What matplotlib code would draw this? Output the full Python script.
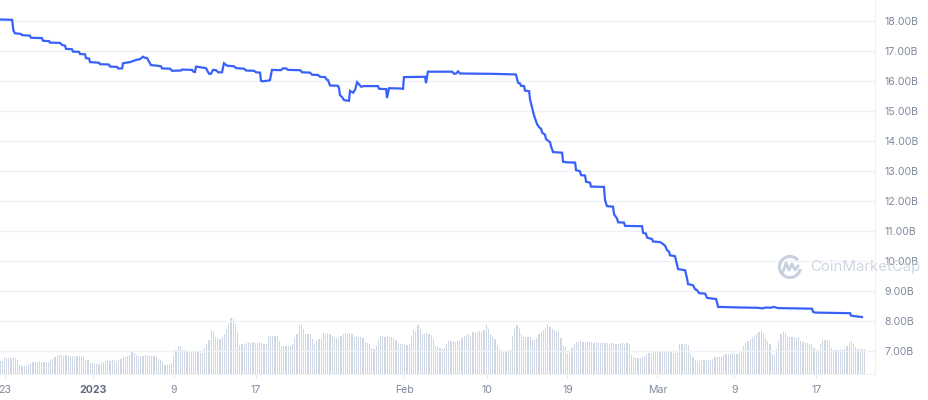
import numpy as np
import matplotlib
matplotlib.use("Agg")
import matplotlib.pyplot as plt
from matplotlib.patches import Arc

plt.rcParams['font.family'] = ['Inter', 'DejaVu Sans']

# market cap line, breakpoints (x in data-point index, value in B)
line_x = [0, 5.5, 6.1, 6.8, 9.5, 10.0, 13.6, 14.1, 19.1, 19.5, 22.3, 22.7, 27.3, 28.2,
          29.5, 30.0, 32.7, 33.2, 35.9, 36.4, 38.6, 39.1, 40.5, 40.9, 45.0, 45.5, 49.5,
          50.0, 53.2, 53.6, 55.5, 55.9, 57.3, 59.1, 61.8, 63.6, 65.0, 65.9, 66.8, 68.6,
          71.4, 73.2, 73.6, 77.3, 78.2, 82.3, 82.7, 87.3, 87.7, 88.6, 89.1, 91.8, 93.6,
          95.0, 95.9, 96.8, 98.2, 99.1, 100.9, 101.8, 103.2, 106.4, 107.3, 110.9, 111.8,
          115.5, 116.4, 118.2, 118.6, 119.1, 121.8, 122.7, 123.6, 127.7, 128.6, 130.0,
          130.9, 136.4, 137.3, 140.9, 141.8, 144.5, 145.5, 147.7, 148.6, 149.1, 150.0,
          153.6, 154.1, 154.5, 155.5, 156.4, 158.6, 159.1, 160.5, 161.4, 162.3, 163.2,
          164.1, 165.5, 171.8, 172.3, 175.5, 175.9, 176.8, 181.8, 183.2, 183.6, 193.2,
          193.6, 194.5, 205.5, 206.4, 207.3, 208.2, 209.1, 222.7, 234.1, 234.5, 235.5,
          236.4, 236.8, 238.2, 238.6, 240.5, 240.9, 241.8, 242.7, 244.1, 245.0, 245.9,
          246.4, 247.7, 248.2, 250.0, 250.5, 251.4, 255.5, 255.9, 257.3, 261.4, 261.8,
          263.6, 264.1, 265.9, 266.4, 268.2, 268.6, 274.5, 275.0, 275.5, 275.9, 278.6,
          279.1, 280.5, 280.9, 283.6, 284.1, 291.8, 292.3, 293.6, 294.1, 296.4, 296.8,
          300.0, 300.9, 302.3, 303.2, 304.1, 304.5, 306.8, 307.3, 308.2, 311.4, 312.3,
          312.7, 315.0, 315.9, 316.8, 317.7, 320.5, 321.4, 325.5, 326.4, 336.4, 344.5,
          346.4, 348.2, 350.0, 351.8, 353.6, 369.1, 369.5, 370.5, 386.4, 386.8, 388.6,
          391.8]
line_val = [18.04, 18.03, 17.67, 17.58, 17.56, 17.52, 17.50, 17.43, 17.42, 17.33, 17.32,
            17.27, 17.26, 17.19, 17.17, 17.06, 17.05, 16.97, 16.96, 16.89, 16.88, 16.75,
            16.74, 16.62, 16.60, 16.55, 16.54, 16.47, 16.46, 16.41, 16.41, 16.58, 16.60,
            16.62, 16.69, 16.72, 16.80, 16.76, 16.76, 16.52, 16.50, 16.48, 16.41, 16.40,
            16.33, 16.34, 16.37, 16.36, 16.31, 16.29, 16.47, 16.44, 16.42, 16.23, 16.23,
            16.36, 16.35, 16.28, 16.28, 16.58, 16.50, 16.48, 16.42, 16.40, 16.34, 16.33,
            16.28, 16.27, 16.00, 15.98, 16.00, 16.02, 16.36, 16.35, 16.41, 16.41, 16.36,
            16.35, 16.28, 16.27, 16.20, 16.19, 16.13, 16.12, 16.03, 16.02, 15.84, 15.83,
            15.75, 15.52, 15.45, 15.35, 15.33, 15.66, 15.60, 15.70, 15.95, 15.88, 15.80,
            15.82, 15.82, 15.73, 15.72, 15.42, 15.75, 15.74, 15.73, 16.12, 16.13, 15.92,
            16.30, 16.30, 16.23, 16.24, 16.31, 16.24, 16.23, 16.21, 16.20, 15.93, 15.90,
            15.83, 15.82, 15.67, 15.65, 15.38, 15.12, 14.85, 14.55, 14.45, 14.40, 14.27,
            14.20, 14.05, 13.95, 13.80, 13.62, 13.60, 13.30, 13.28, 13.27, 13.02, 12.98,
            12.85, 12.84, 12.63, 12.60, 12.47, 12.46, 12.02, 11.90, 11.82, 11.80, 11.55,
            11.40, 11.28, 11.27, 11.16, 11.15, 10.93, 10.90, 10.77, 10.72, 10.64, 10.62,
            10.58, 10.50, 10.35, 10.30, 10.18, 10.15, 10.00, 9.72, 9.68, 9.40, 9.22, 9.18,
            9.05, 9.02, 8.92, 8.90, 8.76, 8.72, 8.46, 8.44, 8.43, 8.41, 8.44, 8.43, 8.46,
            8.42, 8.40, 8.30, 8.27, 8.25, 8.17, 8.15, 8.12]

# volume per data point, in units of 100M
volume_100m = [13, 13, 16, 16, 16, 16, 17, 16, 14, 9, 8, 8, 8, 10, 11, 12, 12,
               12, 13, 12, 12, 12, 12, 14, 15, 17, 19, 19, 19, 18, 19,
               18, 18, 18, 17, 18, 18, 17, 17, 14, 14, 11, 11, 10, 10, 10, 11,
               12, 13, 14, 13, 14, 14, 13, 14, 15, 17, 17, 18, 19, 22, 21, 19, 18,
               18, 18, 19, 19, 18, 18, 18, 17, 15, 14, 13, 9, 9, 10, 11, 18, 24,
               28, 28, 24, 24, 23, 23, 23, 22, 22, 22, 21, 21, 26, 30, 34, 44, 42,
               37, 36, 35, 37, 40, 45, 50, 56, 55, 50, 42, 29, 30, 30, 31,
               32, 31, 32, 31, 31, 32, 31, 30, 30, 38, 38, 38, 38, 38, 33,
               28, 28, 28, 28, 28, 30, 36, 40, 49, 50, 45, 40, 40, 40, 35, 30, 33,
               35, 35, 41, 40, 41, 40, 38, 36, 36, 35, 38, 40, 41, 40, 41, 40,
               37, 38, 37, 37, 36, 32, 31, 30, 26, 25, 28, 35, 38, 38, 37, 38,
               37, 37, 36, 34, 31, 30, 30, 30, 29, 30, 38, 44, 42, 49, 45,
               40, 40, 41, 40, 39, 35, 28, 27, 26, 25, 26, 30, 33, 33, 33, 32, 33, 33,
               36, 38, 39, 40, 38, 42, 41, 42, 43, 42, 44, 49, 45, 40, 37, 35,
               28, 25, 24, 23, 23, 24, 24, 38, 45, 49, 46, 40, 37, 37, 37, 37,
               34, 34, 36, 40, 42, 44, 46, 50, 47, 45, 44, 43, 42, 36, 28, 27,
               21, 21, 26, 30,
               32, 32, 33, 32, 31, 32, 32, 32, 31, 32, 32, 31, 32, 31, 31, 30, 31, 31, 30, 30,
               31, 31, 30, 31, 30, 19, 17, 16, 16, 16, 17, 18,
               20, 21, 21, 22, 22, 22, 22, 23, 22, 22, 22, 22, 21, 21, 22,
               30, 30, 30, 30, 29, 20, 17, 14, 13, 14, 14, 14, 14, 14, 14, 15,
               17, 17, 17, 17, 19, 20, 20, 20, 21, 20, 20, 21, 22,
               28, 31, 33, 35, 37, 38, 40, 42, 43, 40, 36, 33, 30, 20, 19,
               25, 33, 40, 43, 41, 38, 37, 37, 37, 36, 37, 33, 32, 31, 31, 30, 30,
               26, 24, 24, 30, 34, 34, 34, 33, 26, 24, 24, 24, 25, 24, 25,
               28, 31, 33, 30, 27, 25, 25, 25, 25]

tick_pos = [2.3, 42.4, 79.1, 116.4, 183.8, 221.5, 257.9, 298.8, 333.8, 371.0]
tick_labels = ['23', '2023', '9', '17', 'Feb', '10', '19', 'Mar', '9', '17']
y_ticks = [7, 8, 9, 10, 11, 12, 13, 14, 15, 16, 17, 18]

grey_text = '#808A9D'
grid_col = '#EFF2F5'

fig = plt.figure(figsize=(9.29, 4.0), dpi=100)
ax = fig.add_axes([0.0, 0.065, 875 / 929, 0.935])
ax2 = ax.twinx()

# volume bars (behind)
ax2.bar(np.arange(len(volume_100m)), np.array(volume_100m) / 10, width=0.55,
        color='#CFD6E4', linewidth=0)
ax2.set_ylim(0, 37.4)
ax2.set_yticks([])
for s in ax2.spines.values():
    s.set_visible(False)

ax.set_zorder(ax2.get_zorder() + 1)
ax.patch.set_visible(False)

ax.plot(line_x, line_val, color='#3861FB', lw=1.6, solid_joinstyle='miter')

ax.set_xlim(0, 397.7)
ax.set_ylim(6.223, 18.69)

ax.yaxis.tick_right()
ax.set_yticks(y_ticks)
ax.set_yticklabels([f'{v:.2f}B' for v in y_ticks])
ax.tick_params(axis='y', length=0, pad=6.5, labelsize=7.6, labelcolor=grey_text)
ax.grid(axis='y', color=grid_col, lw=1)

ax.set_xticks(tick_pos)
ax.set_xticklabels(tick_labels)
ax.tick_params(axis='x', length=3, width=0.8, color='#E3E7ED', pad=5,
               labelsize=7.6, labelcolor=grey_text)
lbl = ax.get_xticklabels()[1]
lbl.set_fontweight('bold')
lbl.set_color('#5E6A80')

for side in ['left', 'top']:
    ax.spines[side].set_visible(False)
ax.spines['bottom'].set_color(grid_col)
ax.spines['right'].set_color(grid_col)

# watermark
wm = '#C8D0DE'
fig.text(0.872, 0.332, 'CoinMarketCap', fontsize=10.8, color=wm, alpha=0.85,
         va='center', ha='left')
fig.patches.append(Arc((790, 133), 21, 21, theta1=40, theta2=350, color=wm, lw=2.2,
                       transform=None, figure=fig))
fig.lines.append(plt.Line2D([783, 786, 789, 792, 795, 798], [128, 137, 130, 136, 130, 134],
                            color=wm, lw=2.0, transform=None, figure=fig))

fig.savefig('out.png', dpi=100)
